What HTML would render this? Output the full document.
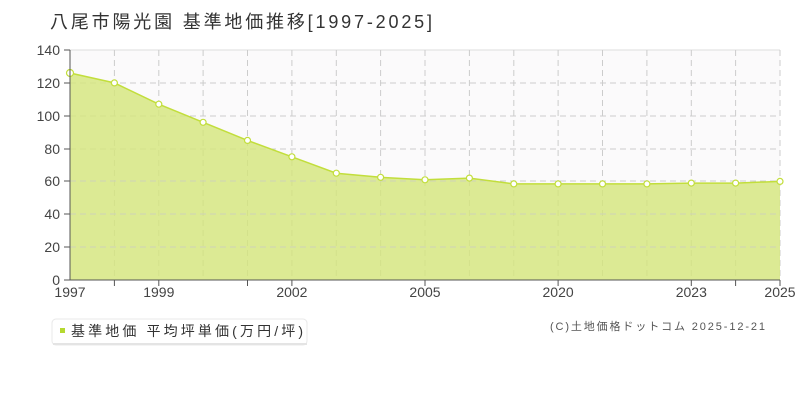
<!DOCTYPE html>
<html><head><meta charset="utf-8"><style>
body{margin:0;background:#fff;width:800px;height:400px;overflow:hidden}
svg text{font-family:"Liberation Sans","Noto Sans CJK JP",sans-serif}
</style></head><body>
<svg width="800" height="400" xmlns="http://www.w3.org/2000/svg">
<text x="50" y="28" font-size="18" fill="#333" textLength="382" lengthAdjust="spacing">八尾市陽光園 基準地価推移[1997-2025]</text>
<rect x="70" y="50" width="710" height="230" fill="#fbfafb"/>
<line x1="70" y1="50" x2="780" y2="50" stroke="#ddd"/>
<g stroke="#ccc" stroke-dasharray="6,4" fill="none">
<line x1="70" y1="83" x2="780" y2="83"/><line x1="70" y1="116" x2="780" y2="116"/><line x1="70" y1="149" x2="780" y2="149"/><line x1="70" y1="181" x2="780" y2="181"/><line x1="70" y1="214" x2="780" y2="214"/><line x1="70" y1="247" x2="780" y2="247"/>
<line x1="114.4" y1="50" x2="114.4" y2="280"/><line x1="158.8" y1="50" x2="158.8" y2="280"/><line x1="203.1" y1="50" x2="203.1" y2="280"/><line x1="247.5" y1="50" x2="247.5" y2="280"/><line x1="291.9" y1="50" x2="291.9" y2="280"/><line x1="336.3" y1="50" x2="336.3" y2="280"/><line x1="380.6" y1="50" x2="380.6" y2="280"/><line x1="425" y1="50" x2="425" y2="280"/><line x1="469.4" y1="50" x2="469.4" y2="280"/><line x1="513.8" y1="50" x2="513.8" y2="280"/><line x1="558.1" y1="50" x2="558.1" y2="280"/><line x1="602.5" y1="50" x2="602.5" y2="280"/><line x1="646.9" y1="50" x2="646.9" y2="280"/><line x1="691.3" y1="50" x2="691.3" y2="280"/><line x1="735.6" y1="50" x2="735.6" y2="280"/><line x1="780" y1="50" x2="780" y2="280"/>
</g>
<polygon fill="#d4e67a" fill-opacity="0.8" points="70,280 70,73 114.4,82.9 158.8,104.2 203.1,122.3 247.5,140.4 291.9,156.8 336.3,173.2 380.6,177.3 425,179.8 469.4,178.1 513.8,183.9 558.1,183.9 602.5,183.9 646.9,183.9 691.3,183.1 735.6,183.1 780,181.4 780,280"/>
<g stroke="#ccc" stroke-dasharray="6,4" fill="none" opacity="0.7">
<line x1="70" y1="214" x2="780" y2="214"/><line x1="70" y1="247" x2="780" y2="247"/><line x1="70" y1="181" x2="780" y2="181"/>
</g>
<polyline fill="none" stroke="#c2de3c" stroke-width="1.5" points="70,73 114.4,82.9 158.8,104.2 203.1,122.3 247.5,140.4 291.9,156.8 336.3,173.2 380.6,177.3 425,179.8 469.4,178.1 513.8,183.9 558.1,183.9 602.5,183.9 646.9,183.9 691.3,183.1 735.6,183.1 780,181.4"/>
<g fill="#fff" stroke="#c2de3c" stroke-width="1.2">
<circle cx="70" cy="73" r="3.5"/><circle cx="114.4" cy="82.9" r="3"/><circle cx="158.8" cy="104.2" r="3"/><circle cx="203.1" cy="122.3" r="3"/><circle cx="247.5" cy="140.4" r="3"/><circle cx="291.9" cy="156.8" r="3"/><circle cx="336.3" cy="173.2" r="3"/><circle cx="380.6" cy="177.3" r="3"/><circle cx="425" cy="179.8" r="3"/><circle cx="469.4" cy="178.1" r="3"/><circle cx="513.8" cy="183.9" r="3"/><circle cx="558.1" cy="183.9" r="3"/><circle cx="602.5" cy="183.9" r="3"/><circle cx="646.9" cy="183.9" r="3"/><circle cx="691.3" cy="183.1" r="3"/><circle cx="735.6" cy="183.1" r="3"/><circle cx="780" cy="181.4" r="3"/>
</g>
<g stroke="#555">
<line x1="70" y1="50" x2="70" y2="280"/><line x1="70" y1="280" x2="780" y2="280"/>
<line x1="64" y1="50" x2="70" y2="50"/><line x1="64" y1="83" x2="70" y2="83"/><line x1="64" y1="116" x2="70" y2="116"/><line x1="64" y1="149" x2="70" y2="149"/><line x1="64" y1="181" x2="70" y2="181"/><line x1="64" y1="214" x2="70" y2="214"/><line x1="64" y1="247" x2="70" y2="247"/><line x1="64" y1="280" x2="70" y2="280"/>
<line x1="114.4" y1="280" x2="114.4" y2="286"/><line x1="158.8" y1="280" x2="158.8" y2="286"/><line x1="247.5" y1="280" x2="247.5" y2="286"/><line x1="291.9" y1="280" x2="291.9" y2="286"/><line x1="425" y1="280" x2="425" y2="286"/><line x1="558.1" y1="280" x2="558.1" y2="286"/><line x1="691.3" y1="280" x2="691.3" y2="286"/><line x1="735.6" y1="280" x2="735.6" y2="286"/><line x1="780" y1="280" x2="780" y2="286"/>
</g>
<g font-size="14" fill="#444" text-anchor="end">
<text x="60" y="55">140</text><text x="60" y="88">120</text><text x="60" y="121">100</text><text x="60" y="154">80</text><text x="60" y="186">60</text><text x="60" y="219">40</text><text x="60" y="252">20</text><text x="60" y="285">0</text>
</g>
<g font-size="14" fill="#444" text-anchor="middle">
<text x="70" y="297">1997</text><text x="158.8" y="297">1999</text><text x="291.9" y="297">2002</text><text x="425" y="297">2005</text><text x="558.1" y="297">2020</text><text x="691.3" y="297">2023</text><text x="780" y="297">2025</text>
</g>
<rect x="52" y="319" width="255" height="26" rx="4" fill="#fff" stroke="#e8e8e8"/>
<rect x="53" y="343" width="254" height="2" fill="#e4e4e4"/>
<rect x="60" y="328" width="5" height="5" fill="#b5d930"/>
<text x="71" y="336" font-size="14" fill="#333" textLength="232" lengthAdjust="spacing">基準地価 平均坪単価(万円/坪)</text>
<text x="550" y="330" font-size="11" fill="#555" textLength="215" lengthAdjust="spacing">(C)土地価格ドットコム 2025-12-21</text>
</svg>
</body></html>
